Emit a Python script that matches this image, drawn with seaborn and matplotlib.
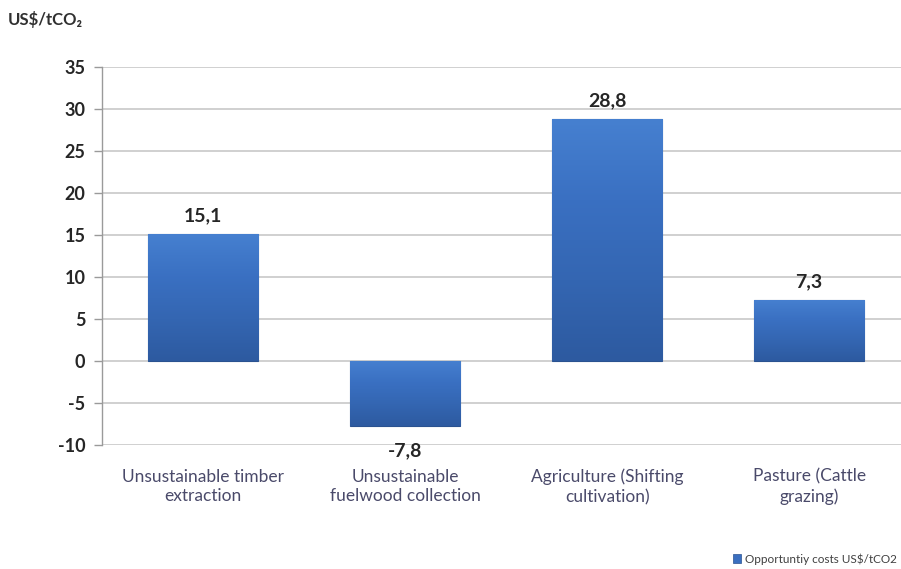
import numpy as np
import pandas as pd
import matplotlib
matplotlib.use("Agg")
import matplotlib.pyplot as plt
import seaborn as sns
from matplotlib.colors import LinearSegmentedColormap
from matplotlib.patches import Patch

categories = ["Unsustainable timber\nextraction",
              "Unsustainable\nfuelwood collection",
              "Agriculture (Shifting\ncultivation)",
              "Pasture (Cattle\ngrazing)"]
values = [15.1, -7.8, 28.8, 7.3]
value_labels = ["15,1", "-7,8", "28,8", "7,3"]
y_ticks = [-10, -5, 0, 5, 10, 15, 20, 25, 30, 35]
series_name = "Opportuntiy costs US\\$/tCO2"

sns.set_theme(style="white")
plt.rcParams["font.family"] = ["Lato", "DejaVu Sans"]

df = pd.DataFrame({"category": categories, "value": values})

fig = plt.figure(figsize=(9.01, 5.69), dpi=100)
ax = fig.add_axes([0.1132, 0.218, 0.897, 0.664])

sns.barplot(data=df, x="category", y="value", color="#3a6fc0", width=0.545,
            ax=ax, saturation=1, edgecolor="#2a5290", linewidth=0.8, zorder=3)

# vertical gradient inside every bar: darker at the base, lighter near the top
grad_cmap = LinearSegmentedColormap.from_list(
    "bar", ["#2d5aa0", "#3466b2", "#3a70c2", "#4680d0"])
grad = np.linspace(0, 1, 256).reshape(-1, 1)
for patch in ax.patches:
    x0, y0 = patch.get_x(), patch.get_y()
    w, h = patch.get_width(), patch.get_height()
    ylo, yhi = min(y0, y0 + h), max(y0, y0 + h)
    im = ax.imshow(grad, extent=[x0, x0 + w, ylo, yhi], origin="lower",
                   cmap=grad_cmap, aspect="auto", zorder=3.5)
    im.set_clip_path(patch)

ax.set_xlim(-0.5, 3.5)
ax.set_ylim(-10, 35)
ax.set_yticks(y_ticks)
ax.set_yticklabels([str(t) for t in y_ticks], fontsize=13,
                   fontweight="bold", color="#262626")
ax.grid(axis="y", color="#c8c8c8", linewidth=1.2, zorder=0)
ax.set_xlabel("")
ax.set_ylabel("")
ax.tick_params(axis="y", length=6, width=1, color="#9a9a9a", pad=6, left=True)
ax.tick_params(axis="x", length=0, pad=17)
for lbl in ax.get_xticklabels():
    lbl.set_fontsize(12.5)
    lbl.set_color("#4a4a6a")
    lbl.set_linespacing(1.3)

for side in ["top", "right", "bottom"]:
    ax.spines[side].set_visible(False)
ax.spines["left"].set_color("#9a9a9a")
ax.spines["left"].set_linewidth(1)

for i, (v, t) in enumerate(zip(values, value_labels)):
    if v >= 0:
        ax.annotate(t, (i, v), xytext=(0, 7), textcoords="offset points",
                    ha="center", va="bottom", fontsize=14, fontweight="bold",
                    color="#262626")
    else:
        ax.annotate(t, (i, v), xytext=(0, -11), textcoords="offset points",
                    ha="center", va="top", fontsize=14, fontweight="bold",
                    color="#262626")

fig.text(0.009, 0.965, "US\\$/tCO\u2082", fontsize=12, fontweight="bold",
         color="#303030", ha="left", va="center")

# legend in the lower right corner of the figure
handle = Patch(facecolor="#3a6fc0", edgecolor="#2a5290", linewidth=0.5,
               label=series_name)
leg = fig.legend(handles=[handle], loc="lower right", bbox_to_anchor=(1.0, 0.0),
                 frameon=False, fontsize=8.5, handlelength=0.75,
                 handleheight=0.75, handletextpad=0.3, borderaxespad=0.15,
                 borderpad=0.2)
for txt in leg.get_texts():
    txt.set_color("#404040")

fig.savefig("out.png", dpi=100, facecolor="white")
